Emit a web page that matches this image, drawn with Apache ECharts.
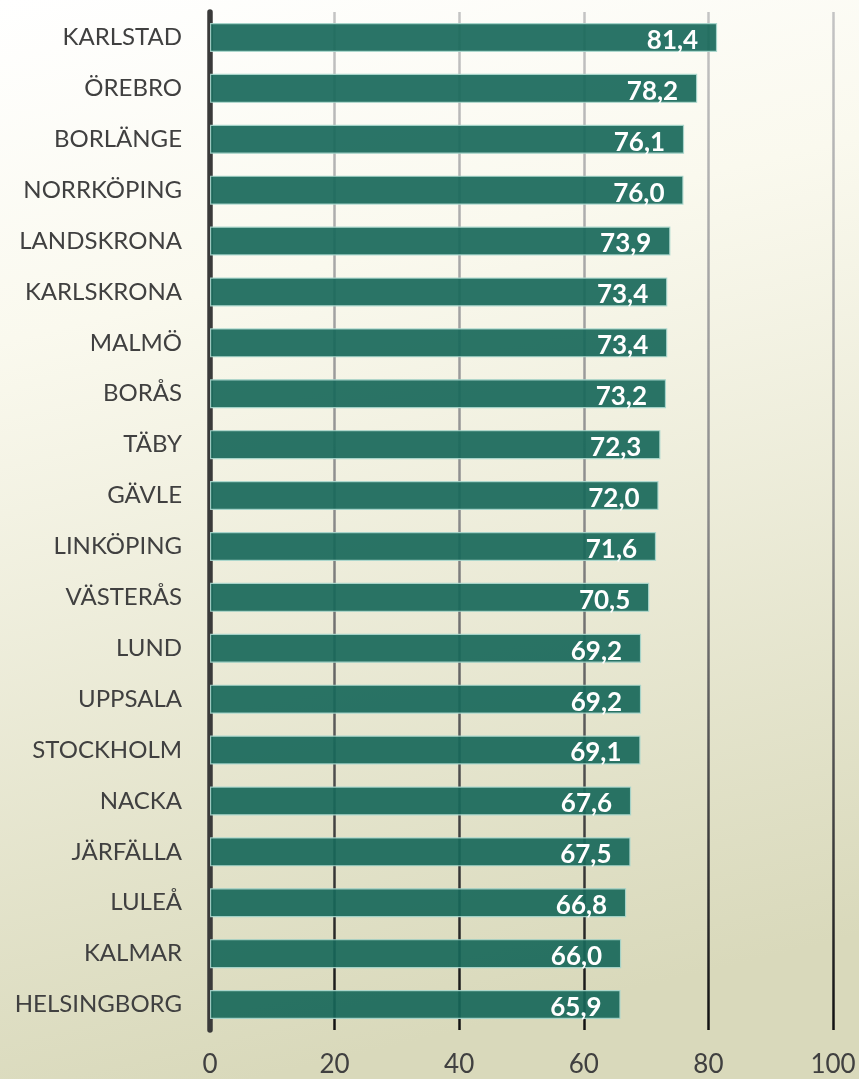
<!DOCTYPE html>
<html>
<head>
<meta charset="utf-8">
<script src="https://cdn.jsdelivr.net/npm/echarts@6/dist/echarts.min.js"></script>
<style>
    html, body { margin: 0; padding: 0; }
    #chart { width: 859px; height: 1079px; }
</style>
</head>
<body>
<div id="chart"></div>
<script>
    const cities = ['KARLSTAD', 'ÖREBRO', 'BORLÄNGE', 'NORRKÖPING', 'LANDSKRONA', 'KARLSKRONA', 'MALMÖ', 'BORÅS', 'TÄBY', 'GÄVLE',
        'LINKÖPING', 'VÄSTERÅS', 'LUND', 'UPPSALA', 'STOCKHOLM', 'NACKA', 'JÄRFÄLLA', 'LULEÅ', 'KALMAR', 'HELSINGBORG'];
    const values = [81.4, 78.2, 76.1, 76.0, 73.9, 73.4, 73.4, 73.2, 72.3, 72.0,
        71.6, 70.5, 69.2, 69.2, 69.1, 67.6, 67.5, 66.8, 66.0, 65.9];
    const xTicks = [0, 20, 40, 60, 80, 100];

    const chartDom = document.getElementById('chart');
    const myChart = echarts.init(chartDom);
    const font = 'Lato, "Open Sans", sans-serif';

    const option = {
        backgroundColor: {
            type: 'linear', x: 0, y: 0, x2: 0.3, y2: 1,
            colorStops: [
                { offset: 0, color: '#ffffff' },
                { offset: 0.3, color: '#faf9ee' },
                { offset: 1, color: '#d9d9bb' }
            ]
        },
        grid: {
            left: 210,
            right: 26,
            top: 12,
            bottom: 49
        },
        xAxis: {
            type: 'value',
            min: xTicks[0],
            max: xTicks[xTicks.length - 1],
            interval: 20,
            axisLine: { show: false },
            axisTick: { show: false },
            axisLabel: {
                color: '#404040',
                fontSize: 26,
                fontFamily: font,
                margin: 22
            },
            splitLine: {
                show: true,
                lineStyle: {
                    width: 2.5,
                    color: {
                        type: 'linear', x: 0, y: 12, x2: 0, y2: 1030, global: true,
                        colorStops: [
                            { offset: 0, color: '#c4c4c4' },
                            { offset: 0.5, color: '#8a8a8a' },
                            { offset: 1, color: '#111111' }
                        ]
                    }
                }
            }
        },
        yAxis: {
            type: 'category',
            data: cities,
            inverse: true,
            axisLine: {
                show: true,
                lineStyle: { color: '#3a3a3a', width: 5.5 }
            },
            axisTick: { show: false },
            axisLabel: {
                color: '#404040',
                fontSize: 24,
                fontFamily: font,
                margin: 28
            }
        },
        series: [{
            type: 'bar',
            data: values,
            barWidth: 29,
            itemStyle: {
                color: 'rgba(24, 104, 90, 0.92)',
                borderColor: 'rgba(170, 215, 205, 0.9)',
                borderWidth: 1.2
            },
            label: {
                show: true,
                position: 'insideRight',
                distance: 19,
                color: '#ffffff',
                fontSize: 26,
                fontWeight: 'bold',
                fontFamily: font,
                offset: [0, 3],
                formatter: (p) => p.value.toFixed(1).replace('.', ',')
            }
        }]
    };
    myChart.setOption(option);
</script>
</body>
</html>
